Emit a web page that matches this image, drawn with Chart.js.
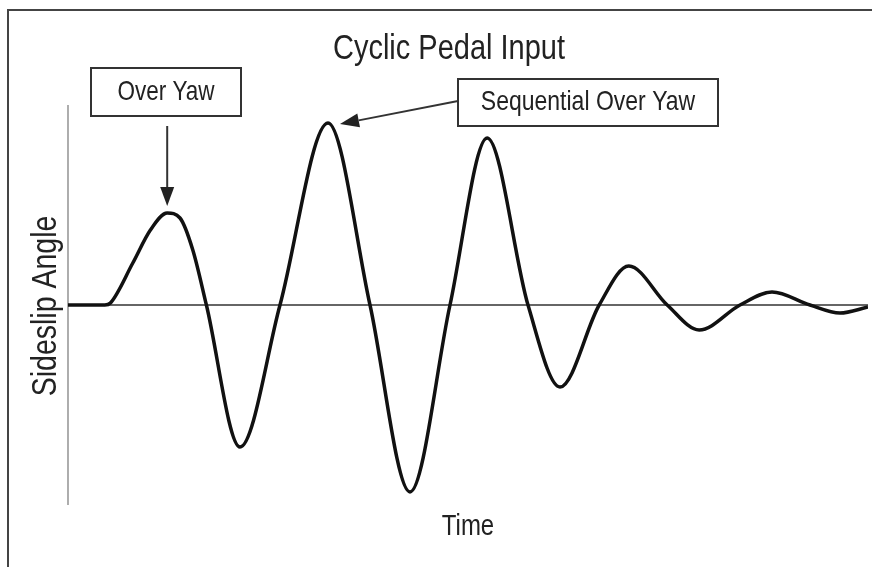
<!DOCTYPE html>
<html>
<head>
<meta charset="utf-8">
<script src="https://cdn.jsdelivr.net/npm/chart.js@4/dist/chart.umd.min.js"></script>
<style>
	html, body { margin: 0; padding: 0; background: #fff; }
	canvas { display: block; }
</style>
</head>
<body>
<canvas id="canvas-sideslip" width="872" height="567"></canvas>
<script>
// Time (arbitrary units) and sideslip angle readings along the trace.
var timeValues = [0, 4.6, 5.3, 8.1, 10.3, 12.4, 14, 15.6, 17.3, 21.5, 26.5, 32.5, 37.75, 42.75, 47.75, 52.4, 57.5, 61.5, 66.4, 70.1, 74.9, 78.9, 84, 88, 92.75, 96.5, 100];
var slipValues = [0, 0, 1, 21, 37.5, 46, 43.5, 27.5, 0, -71, 0, 91, 0, -93.5, 0, 83.5, 0, -41, 0, 19.5, 0, -12.5, 0, 6.5, 0, -4, -1];
var zeroLineX = [0, 100];
var zeroLineY = [0, 0];

var chartTitle = 'Cyclic Pedal Input';
var xAxisTitle = 'Time';
var yAxisTitle = 'Sideslip Angle';
var overYawLabel = 'Over Yaw';
var sequentialLabel = 'Sequential Over Yaw';

var curve = timeValues.map(function (t, i) { return { x: t, y: slipValues[i] }; });
var zeroLine = zeroLineX.map(function (t, i) { return { x: t, y: zeroLineY[i] }; });

var FONT = '"Liberation Sans", Arial, Helvetica, sans-serif';

// Text in the picture is a bit taller than plain Arial, so stretch it vertically.
function drawText(ctx, text, x, y, size, angle) {
	ctx.save();
	ctx.translate(x, y);
	if (angle) ctx.rotate(angle);
	ctx.scale(1, 1.22);
	ctx.font = size + 'px ' + FONT;
	ctx.fillStyle = '#222';
	ctx.textAlign = 'center';
	ctx.textBaseline = 'middle';
	ctx.fillText(text, 0, 0);
	ctx.restore();
}

function drawArrow(ctx, x1, y1, x2, y2) {
	var ang = Math.atan2(y2 - y1, x2 - x1);
	var len = 19, half = 7;
	var bx = x2 - Math.cos(ang) * len, by = y2 - Math.sin(ang) * len;
	ctx.save();
	ctx.strokeStyle = '#333';
	ctx.fillStyle = '#222';
	ctx.lineWidth = 2;
	ctx.beginPath();
	ctx.moveTo(x1, y1);
	ctx.lineTo(bx, by);
	ctx.stroke();
	ctx.beginPath();
	ctx.moveTo(x2, y2);
	ctx.lineTo(bx + Math.sin(ang) * half, by - Math.cos(ang) * half);
	ctx.lineTo(bx - Math.sin(ang) * half, by + Math.cos(ang) * half);
	ctx.closePath();
	ctx.fill();
	ctx.restore();
}

function drawBox(ctx, x, y, w, h, text, size) {
	ctx.save();
	ctx.strokeStyle = '#333';
	ctx.lineWidth = 2;
	ctx.strokeRect(x, y, w, h);
	ctx.restore();
	drawText(ctx, text, x + w / 2, y + h / 2, size);
}

var decorations = {
	id: 'decorations',
	beforeDraw: function (chart) {
		var ctx = chart.ctx;
		var area = chart.chartArea;
		ctx.save();
		ctx.fillStyle = '#fff';
		ctx.fillRect(0, 0, chart.width, chart.height);
		// frame round the figure (open at right and bottom)
		ctx.strokeStyle = '#444';
		ctx.lineWidth = 2;
		ctx.beginPath();
		ctx.moveTo(8, chart.height);
		ctx.lineTo(8, 10);
		ctx.lineTo(chart.width, 10);
		ctx.stroke();
		// vertical axis
		ctx.strokeStyle = '#777';
		ctx.lineWidth = 1.2;
		ctx.beginPath();
		ctx.moveTo(area.left, area.top);
		ctx.lineTo(area.left, area.bottom);
		ctx.stroke();
		ctx.restore();
	},
	afterDraw: function (chart) {
		var ctx = chart.ctx;
		var xs = chart.scales.x, ys = chart.scales.y;

		drawText(ctx, chartTitle, 449, 49, 29);
		drawText(ctx, xAxisTitle, 468, 527, 24);
		drawText(ctx, yAxisTitle, 46, 306, 28.5, -Math.PI / 2);

		drawBox(ctx, 91, 68, 150, 48, overYawLabel, 22.5);
		drawBox(ctx, 458, 79, 260, 47, sequentialLabel, 23);

		// arrows to the first and second peaks
		var p1x = xs.getPixelForValue(timeValues[5]);
		var p1y = ys.getPixelForValue(slipValues[5]);
		drawArrow(ctx, p1x, 126, p1x, p1y - 7);

		var p2x = xs.getPixelForValue(timeValues[11]);
		var p2y = ys.getPixelForValue(slipValues[11]);
		drawArrow(ctx, 458, 101, p2x + 12, p2y + 1);
	}
};

var ctx = document.getElementById('canvas-sideslip').getContext('2d');
var chart = new Chart(ctx, {
	type: 'line',
	data: {
		datasets: [
			{
				label: 'Sideslip angle',
				data: curve,
				borderColor: '#111',
				borderWidth: 3.5,
				pointRadius: 0,
				cubicInterpolationMode: 'monotone',
				fill: false
			},
			{
				label: 'Zero',
				data: zeroLine,
				borderColor: '#333',
				borderWidth: 1.6,
				pointRadius: 0,
				fill: false
			}
		]
	},
	options: {
		responsive: false,
		animation: false,
		layout: { padding: { left: 68, right: 4, top: 105, bottom: 62 } },
		scales: {
			x: { type: 'linear', min: 0, max: 100, display: false },
			y: { type: 'linear', min: -100, max: 100, display: false }
		},
		plugins: {
			legend: { display: false },
			tooltip: { enabled: false },
			title: { display: false }
		}
	},
	plugins: [decorations]
});
</script>
</body>
</html>
